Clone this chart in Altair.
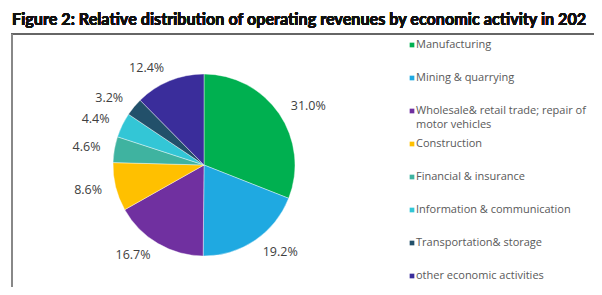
import altair as alt
import pandas as pd
import math

categories = [
    "Manufacturing",
    "Mining & quarrying",
    "Wholesale& retail trade; repair of\nmotor vehicles",
    "Construction",
    "Financial & insurance",
    "Information & communication",
    "Transportation& storage",
    "other economic activities",
]
shares = [31.0, 19.2, 16.7, 8.6, 4.6, 4.4, 3.2, 12.4]
labels = ["31.0%", "19.2%", "16.7%", "8.6%", "4.6%", "4.4%", "3.2%", "12.4%"]
colors = ["#00B050", "#1FA9E1", "#7030A0", "#FFC000", "#3FB3A0", "#33C6D6", "#22506A", "#3A2D9B"]
title_text = "Figure 2: Relative distribution of operating revenues by economic activity in 202"

df = pd.DataFrame({
    "cat": categories,
    "share": shares,
    "label": labels,
    "order": list(range(len(categories))),
})

W, H = 586, 279
CX, CY = 196, 157
TAU = 2 * math.pi

color = alt.Color("cat:N", scale=alt.Scale(domain=categories, range=colors), legend=None)

pie = alt.Chart(df).mark_arc(radius=91, stroke="white", strokeWidth=0.4).encode(
    theta=alt.Theta("share:Q", stack=True),
    order=alt.Order("order:Q"),
    color=color,
    x=alt.value(CX),
    y=alt.value(CY),
)

label_base = alt.Chart(df).transform_window(
    cum="sum(share)", sort=[alt.SortField("order")]
).transform_joinaggregate(
    total="sum(share)"
).transform_calculate(
    mid=f"(datum.cum - datum.share / 2) / datum.total * {TAU}"
)

theta_mid = alt.Theta("mid:Q", scale=alt.Scale(domain=[0, TAU], range=[0, TAU]), stack=None)

lab_right = label_base.transform_filter(f"datum.mid < {math.pi}").mark_text(
    radius=105, fontSize=12.5, font="Open Sans", color="#404040", align="left", baseline="middle"
).encode(theta=theta_mid, text="label:N", x=alt.value(CX), y=alt.value(CY))

lab_left = label_base.transform_filter(f"datum.mid >= {math.pi}").mark_text(
    radius=105, fontSize=12.5, font="Open Sans", color="#404040", align="right", baseline="middle"
).encode(theta=theta_mid, text="label:N", x=alt.value(CX), y=alt.value(CY))

leg_scale = alt.Scale(domain=[0, 7], range=[37, 268])

leg_sym = alt.Chart(df).mark_square(size=22, opacity=1).encode(
    x=alt.value(404),
    y=alt.Y("order:Q", scale=leg_scale, axis=None),
    color=color,
)

leg_txt = alt.Chart(df).mark_text(
    align="left", baseline="middle", fontSize=11, font="Open Sans",
    color="#595959", lineBreak="\n", lineHeight=14,
).encode(
    x=alt.value(408),
    y=alt.Y("order:Q", scale=leg_scale, axis=None),
    text="cat:N",
)

title = alt.Chart(df).mark_text(
    align="left", baseline="middle", fontSize=16.2, font="Lato",
    fontWeight="bold", color="#111111"
).encode(
    x=alt.value(4), y=alt.value(12), text=alt.value(title_text)
)

frame_top = alt.Chart(df).mark_rule(color="#666666", strokeWidth=1.2).encode(
    x=alt.value(3), x2=alt.value(W), y=alt.value(26)
)
frame_left = alt.Chart(df).mark_rule(color="#888888", strokeWidth=2).encode(
    x=alt.value(4), y=alt.value(26), y2=alt.value(H)
)

chart = alt.layer(frame_top, frame_left, pie, lab_right, lab_left, leg_sym, leg_txt, title).resolve_scale(
    y="independent", theta="independent"
).properties(
    width=W, height=H, autosize=alt.AutoSizeParams(type="none"), padding=0
).configure_view(stroke=None)

chart.save("out.html", embed_options={"renderer": "svg", "actions": False})
